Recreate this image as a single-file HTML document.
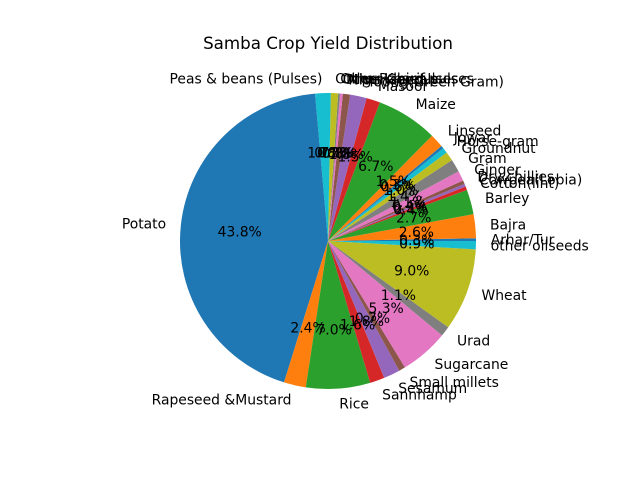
<!DOCTYPE html>
<html><head><meta charset="utf-8"><style>
body{margin:0;background:#fff}
svg{display:block;font-family:"DejaVu Sans","Liberation Sans",sans-serif}
</style></head><body>
<svg id="chart" width="640" height="480">
<rect width="640" height="480" fill="#fff"/>
<text x="328" y="49" text-anchor="middle" font-size="16.7">Samba Crop Yield Distribution</text>
<g id="slices"></g>
<g id="labels"></g>
</svg>
<script>
const categories = ["Arhar/Tur","Bajra","Barley","Cotton(lint)","Cowpea(Lobia)","Dry chillies","Ginger","Gram","Groundnut","Horse-gram","Jowar","Linseed","Maize","Masoor","Moong(Green Gram)","Niger seed","Other Cereals","Other Kharif pulses","Other Rabi pulses","Peas & beans (Pulses)","Potato","Rapeseed &Mustard","Rice","Sannhamp","Sesamum","Small millets","Sugarcane","Urad","Wheat","other oilseeds"];
const values = [0.3,2.6,2.7,0.4,0.3,0.4,1.1,1.4,1.0,0.6,0.3,1.5,6.7,1.5,1.8,0.8,0.3,0.2,0.8,1.7,43.8,2.4,7.0,1.6,1.8,0.7,5.3,1.1,9.0,0.9];
const palette = ["#1f77b4","#ff7f0e","#2ca02c","#d62728","#9467bd","#8c564b","#e377c2","#7f7f7f","#bcbd22","#17becf"];
const cx=328, cy=241, r=148;
const NS="http://www.w3.org/2000/svg";
const total = values.reduce((a,b)=>a+b,0);
const gS=document.getElementById('slices'), gL=document.getElementById('labels');
function pt(a,d){return [cx+d*Math.cos(a), cy-d*Math.sin(a)];}
let acc=0;
values.forEach((v,i)=>{
  const a0=acc/total*2*Math.PI; acc+=v; const a1=acc/total*2*Math.PI;
  const p0=pt(a0,r), p1=pt(a1,r);
  const large=(a1-a0)>Math.PI?1:0;
  const path=document.createElementNS(NS,'path');
  path.setAttribute('d',`M${cx},${cy}L${p0[0]},${p0[1]}A${r},${r} 0 ${large} 0 ${p1[0]},${p1[1]}Z`);
  path.setAttribute('fill',palette[i%10]);
  
  
  gS.appendChild(path);
  const am=(a0+a1)/2;
  const lp=pt(am,r*1.1);
  const t=document.createElementNS(NS,'text');
  t.setAttribute('x',lp[0]); t.setAttribute('y',lp[1]+5);
  t.setAttribute('font-size','13.9');
  t.setAttribute('text-anchor',Math.cos(am)>=0?'start':'end');
  t.textContent=categories[i];
  
  
  gL.appendChild(t);
  const pp=pt(am,r*0.6);
  const tp=document.createElementNS(NS,'text');
  tp.setAttribute('x',pp[0]); tp.setAttribute('y',pp[1]+5);
  tp.setAttribute('font-size','13.9');
  tp.setAttribute('text-anchor','middle');
  tp.textContent=(v/total*100).toFixed(1)+'%';
  
  
  gL.appendChild(tp);
});
</script>
</body></html>
